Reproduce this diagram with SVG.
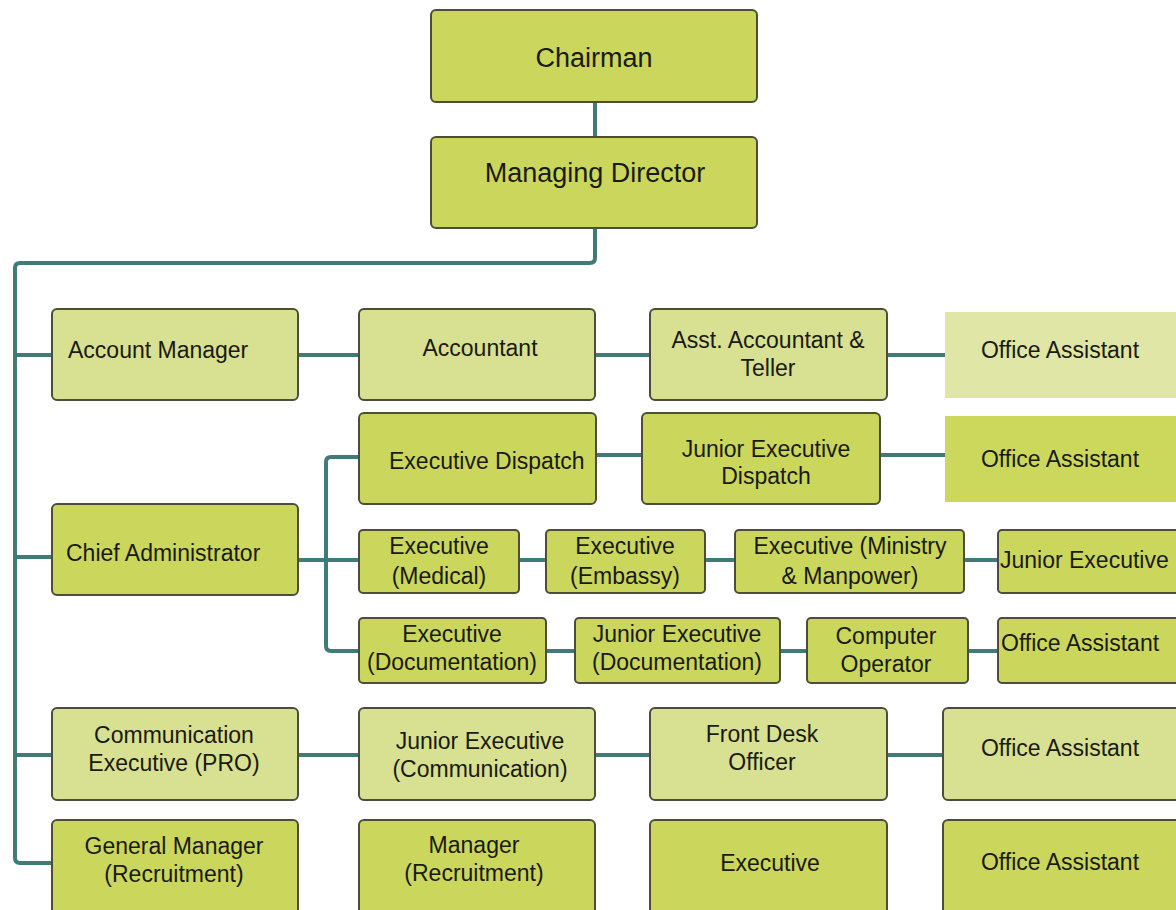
<svg xmlns="http://www.w3.org/2000/svg" width="1176" height="910" viewBox="0 0 1176 910">
<style>
.b{stroke:#4d4d3a;stroke-width:2}
.lt{fill:#d8e091}
.dk{fill:#cad65c}
.oa1{fill:#dfe6a6}
.oa2{fill:#cbd85c}
text{font-family:"Liberation Sans",Arial,sans-serif;font-size:23px;fill:#1a1a10}
.c{text-anchor:middle}
.big{font-size:27px}
.cn{fill:none;stroke:#3e7b79;stroke-width:4}
</style>
<rect width="1176" height="910" fill="#ffffff"/>
<g id="connectors" class="cn">
<path d="M595,102V137"/>
<path d="M595,228V258Q595,263 590,263H20Q15,263 15,268V858Q15,863 20,863H52"/>
<path d="M15,355H52M15,557H52M15,755H52"/>
<path d="M298,355H359M595,355H650M887,355H945"/>
<path d="M298,560H359"/>
<path d="M359,457H331Q326,457 326,462V646Q326,651 331,651H359"/>
<path d="M596,455H642M880,455H945"/>
<path d="M519,560H546M705,560H735M964,560H998"/>
<path d="M546,651H575M780,651H807M968,651H998"/>
<path d="M298,755H359M595,755H650M887,755H943"/>
</g>
<g id="chairman"><rect class="b dk" x="431" y="10" width="326" height="92" rx="5"/><text class="c big" x="594" y="67">Chairman</text></g>
<g id="managing-director"><rect class="b dk" x="431" y="137" width="326" height="91" rx="5"/><text class="c big" x="595" y="182">Managing Director</text></g>
<g id="account-manager"><rect class="b lt" x="52" y="309" width="246" height="91" rx="5"/><text x="68" y="358">Account Manager</text></g>
<g id="accountant"><rect class="b lt" x="359" y="309" width="236" height="91" rx="5"/><text class="c" x="480" y="356">Accountant</text></g>
<g id="asst-accountant"><rect class="b lt" x="650" y="309" width="237" height="91" rx="5"/><text class="c" x="768" y="348">Asst. Accountant &amp;</text><text class="c" x="768" y="376">Teller</text></g>
<g id="office-assistant-1"><rect class="oa1" x="945" y="312" width="231" height="86"/><text class="c" x="1060" y="358">Office Assistant</text></g>
<g id="executive-dispatch"><rect class="b dk" x="359" y="413" width="237" height="91" rx="5"/><text x="389" y="469">Executive Dispatch</text></g>
<g id="junior-executive-dispatch"><rect class="b dk" x="642" y="413" width="238" height="91" rx="5"/><text class="c" x="766" y="457">Junior Executive</text><text class="c" x="766" y="484">Dispatch</text></g>
<g id="office-assistant-2"><rect class="oa2" x="945" y="416" width="231" height="86"/><text class="c" x="1060" y="467">Office Assistant</text></g>
<g id="chief-administrator"><rect class="b dk" x="52" y="504" width="246" height="91" rx="5"/><text x="66" y="561">Chief Administrator</text></g>
<g id="executive-medical"><rect class="b dk" x="359" y="530" width="160" height="63" rx="4"/><text class="c" x="439" y="554">Executive</text><text class="c" x="439" y="584">(Medical)</text></g>
<g id="executive-embassy"><rect class="b dk" x="546" y="530" width="159" height="63" rx="4"/><text class="c" x="625" y="554">Executive</text><text class="c" x="625" y="584">(Embassy)</text></g>
<g id="executive-ministry"><rect class="b dk" x="735" y="530" width="229" height="63" rx="4"/><text class="c" x="850" y="554">Executive (Ministry</text><text class="c" x="850" y="584">&amp; Manpower)</text></g>
<g id="junior-executive"><rect class="b dk" x="998" y="530" width="182" height="63" rx="4"/><text x="1000" y="568">Junior Executive</text></g>
<g id="executive-documentation"><rect class="b dk" x="359" y="618" width="187" height="65" rx="4"/><text class="c" x="452" y="642">Executive</text><text class="c" x="452" y="670">(Documentation)</text></g>
<g id="junior-executive-documentation"><rect class="b dk" x="575" y="618" width="205" height="65" rx="4"/><text class="c" x="677" y="642">Junior Executive</text><text class="c" x="677" y="670">(Documentation)</text></g>
<g id="computer-operator"><rect class="b dk" x="807" y="618" width="161" height="65" rx="4"/><text class="c" x="886" y="644">Computer</text><text class="c" x="886" y="672">Operator</text></g>
<g id="office-assistant-3"><rect class="b dk" x="998" y="618" width="182" height="65" rx="4"/><text x="1001" y="651">Office Assistant</text></g>
<g id="communication-executive"><rect class="b lt" x="52" y="708" width="246" height="92" rx="5"/><text class="c" x="174" y="743">Communication</text><text class="c" x="174" y="771">Executive (PRO)</text></g>
<g id="junior-executive-communication"><rect class="b lt" x="359" y="708" width="236" height="92" rx="5"/><text class="c" x="480" y="749">Junior Executive</text><text class="c" x="480" y="777">(Communication)</text></g>
<g id="front-desk-officer"><rect class="b lt" x="650" y="708" width="237" height="92" rx="5"/><text class="c" x="762" y="742">Front Desk</text><text class="c" x="762" y="770">Officer</text></g>
<g id="office-assistant-4"><rect class="b lt" x="943" y="708" width="237" height="92" rx="5"/><text class="c" x="1060" y="756">Office Assistant</text></g>
<g id="general-manager"><rect class="b dk" x="52" y="820" width="246" height="100" rx="5"/><text class="c" x="174" y="854">General Manager</text><text class="c" x="174" y="882">(Recruitment)</text></g>
<g id="manager-recruitment"><rect class="b dk" x="359" y="820" width="236" height="100" rx="5"/><text class="c" x="474" y="853">Manager</text><text class="c" x="474" y="881">(Recruitment)</text></g>
<g id="executive"><rect class="b dk" x="650" y="820" width="237" height="100" rx="5"/><text class="c" x="770" y="871">Executive</text></g>
<g id="office-assistant-5"><rect class="b dk" x="943" y="820" width="237" height="100" rx="5"/><text class="c" x="1060" y="870">Office Assistant</text></g>
</svg>
